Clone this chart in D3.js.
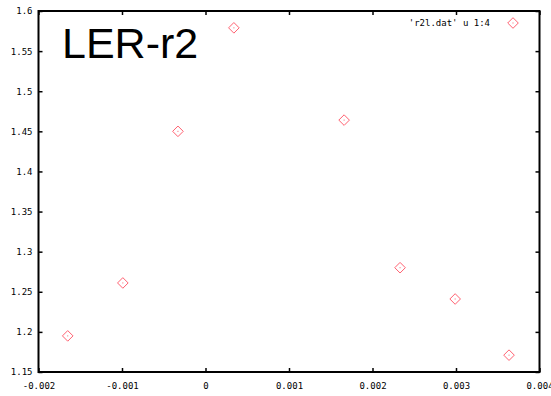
<!DOCTYPE html>
<html><head><meta charset="utf-8">
<script src="https://cdn.jsdelivr.net/npm/d3@7"></script>
<style>body{margin:0;background:#fff}svg{display:block}</style>
</head><body>
<svg id="c" width="551" height="396"></svg>
<script>
const xValues = [-0.00165, -0.00099, -0.00033, 0.00034, 0.00166, 0.00233, 0.00299, 0.003635];
const yValues = [1.195, 1.261, 1.450, 1.579, 1.464, 1.280, 1.241, 1.171];
const xTicks = [-0.002, -0.001, 0, 0.001, 0.002, 0.003, 0.004];
const yTicks = [1.15, 1.2, 1.25, 1.3, 1.35, 1.4, 1.45, 1.5, 1.55, 1.6];
const titleText = "LER-r2";
const legendText = "'r2l.dat' u 1:4";

const svg = d3.select("#c");
const L = 38.5, R = 539.5, T = 11, B = 372;
const x = d3.scaleLinear().domain([-0.002, 0.004]).range([L, R]);
const y = d3.scaleLinear().domain([1.15, 1.6]).range([B, T]);
const fmt = d => String(+d.toFixed(4));
const font = "DejaVu Sans Mono, monospace";

const axB = d3.axisBottom(x).tickValues(xTicks).tickFormat(fmt).tickSizeInner(-4).tickSizeOuter(0).tickPadding(11);
const axT = d3.axisTop(x).tickValues(xTicks).tickFormat("").tickSizeInner(-4).tickSizeOuter(0);
const axL = d3.axisLeft(y).tickValues(yTicks).tickFormat(fmt).tickSizeInner(-4).tickSizeOuter(0).tickPadding(6);
const axR = d3.axisRight(y).tickValues(yTicks).tickFormat("").tickSizeInner(-4).tickSizeOuter(0);

function style(g){
  g.selectAll("path").remove();
  g.selectAll("line").attr("stroke","#000").attr("stroke-width",1.5);
  g.selectAll("text").attr("fill","#000").style("font-family",font).style("font-size","9px");
}
svg.append("g").attr("transform",`translate(0,${B})`).call(axB).call(style);
svg.append("g").attr("transform",`translate(0,${T})`).call(axT).call(style);
svg.append("g").attr("transform",`translate(${L},0)`).call(axL).call(style);
svg.append("g").attr("transform",`translate(${R},0)`).call(axR).call(style);

svg.append("rect").attr("x",L).attr("y",T).attr("width",R-L).attr("height",B-T)
  .attr("fill","none").attr("stroke","#000").attr("stroke-width",2);

svg.append("text").attr("x",62).attr("y",58).text(titleText)
  .style("font-family","Liberation Sans, Arial, sans-serif").style("font-size","43px").attr("fill","#000");

svg.append("text").attr("x",490).attr("y",26).attr("text-anchor","end").text(legendText)
  .style("font-family",font).style("font-size","9px").attr("fill","#000");

const col = "#ff6070";
function diamond(g, cx, cy){
  const s = 5.3;
  g.append("path").attr("d",`M${cx},${cy-s}L${cx+s},${cy}L${cx},${cy+s}L${cx-s},${cy}Z`)
    .attr("fill","none").attr("stroke",col).attr("stroke-width",1);
  g.append("rect").attr("x",cx-0.5).attr("y",cy-0.5).attr("width",1).attr("height",1).attr("fill",col);
}
const pts = svg.append("g");
xValues.forEach((v,i)=>diamond(pts, x(v), y(yValues[i])));
diamond(svg.append("g"), 513, 23);
</script>
</body></html>
